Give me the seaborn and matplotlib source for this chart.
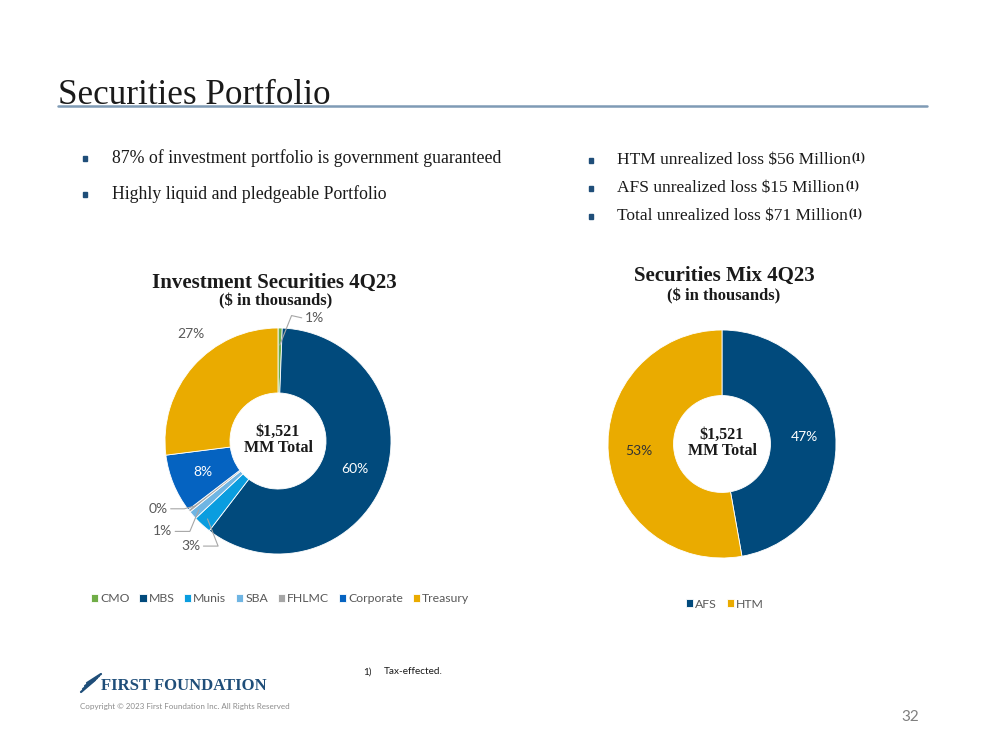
import matplotlib
matplotlib.use("Agg")
import matplotlib.pyplot as plt
import seaborn as sns
import numpy as np
from matplotlib.patches import Rectangle
from matplotlib.lines import Line2D

# ---------------- data ----------------
inv_categories = ["CMO", "MBS", "Munis", "SBA", "FHLMC", "Corporate", "Treasury"]
inv_values = [0.6, 59.8, 2.6, 1.2, 0.4, 8.4, 27.0]
mix_categories = ["AFS", "HTM"]
mix_values = [47.2, 52.8]
center_label = "$1,521\nMM Total"
left_bullets = ["87% of investment portfolio is government guaranteed",
                "Highly liquid and pledgeable Portfolio"]
right_bullets = ["HTM unrealized loss $56 Million",
                 "AFS unrealized loss $15 Million",
                 "Total unrealized loss $71 Million"]

inv_colors = ["#70ad47", "#014a7c", "#0a9ddf", "#6fb5e3", "#a6a6a6", "#0563c1", "#eaab00"]
mix_colors = ["#014a7c", "#eaab00"]

sns.set_theme(style="white")
SERIF = ["Liberation Serif", "DejaVu Serif"]
SANS = ["Lato", "DejaVu Sans"]
plt.rcParams["font.family"] = SANS

W, H = 999, 750
fig = plt.figure(figsize=(W / 100, H / 100), dpi=100)
fig.patch.set_facecolor("white")


def fx(x):
    return x / W


def fy(y):
    return 1 - y / H


# ---------------- header ----------------
fig.text(fx(58), fy(104), "Securities Portfolio", family=SERIF, fontsize=25.3,
         color="#1a1a1a", va="baseline", ha="left")
fig.add_artist(Line2D([fx(58), fx(927)], [fy(106), fy(106)], color="#7f9bb5", lw=1.8))

bullet_col = "#1f4e79"
for i, t in enumerate(left_bullets):
    y = 158 + i * 36
    fig.add_artist(Rectangle((fx(83), fy(y + 3)), 4 / W, 5 / H, color=bullet_col))
    fig.text(fx(112), fy(y), t, family=SERIF, fontsize=12.8, color="#1a1a1a", va="center")
for i, t in enumerate(right_bullets):
    y = 160 + i * 28
    fig.add_artist(Rectangle((fx(589), fy(y + 3)), 4 / W, 5 / H, color=bullet_col))
    tx = fig.text(fx(617), fy(y), t, family=SERIF, fontsize=12.5, color="#1a1a1a", va="center")
    fig.canvas.draw()
    bb = tx.get_window_extent()
    fig.text(bb.x1 / W + 1 / W, fy(y + 4), "(1)", family=SERIF, fontsize=8.5,
             fontweight="bold", color="#1a1a1a", va="bottom")


# ---------------- donuts ----------------
def donut(cx, cy, R, values, colors, half=170):
    ax = fig.add_axes([fx(cx - half), fy(cy + half), 2 * half / W, 2 * half / H])
    lim = half / R
    ax.set_xlim(-lim, lim)
    ax.set_ylim(-lim, lim)
    ax.set_aspect("equal")
    ax.axis("off")
    wedges, _ = ax.pie(values, colors=colors, startangle=90, counterclock=False, radius=1,
                       wedgeprops=dict(width=0.575, edgecolor="white", linewidth=0.6))
    ax.set_xlim(-lim, lim)
    ax.set_ylim(-lim, lim)
    ax.text(0, 0.01, center_label, ha="center", va="center", family=SERIF,
            fontweight="bold", fontsize=11.5, color="#1a1a1a", linespacing=1.05)
    return ax, wedges


def mid_angle(w):
    return np.deg2rad((w.theta1 + w.theta2) / 2)


# Left donut
axL, wL = donut(278, 441, 113, inv_values, inv_colors)
labels_L = [f"{round(v)}%" for v in inv_values]
grey = "#595959"
lead = "#a6a6a6"
for idx in [1, 5]:
    a = mid_angle(wL[idx])
    axL.text(0.72 * np.cos(a), 0.72 * np.sin(a), labels_L[idx], ha="center", va="center",
             color="white", fontsize=10)
a = np.deg2rad(129)
axL.text(1.22 * np.cos(a), 1.22 * np.sin(a), labels_L[6], ha="center", va="center",
         color=grey, fontsize=10)
small = [(0, (0.24, 1.09), (0.12, 1.11), "left"),
         (4, (-0.98, -0.6), (-0.83, -0.6), "right"),
         (3, (-0.94, -0.8), (-0.78, -0.8), "right"),
         (2, (-0.69, -0.93), (-0.53, -0.93), "right")]
for idx, tpos, elbow, ha in small:
    a = mid_angle(wL[idx])
    r = 0.93 if idx != 0 else 0.85
    px_, py_ = r * np.cos(a), r * np.sin(a)
    axL.plot([tpos[0] + (0.03 if ha == "right" else -0.03), elbow[0], px_],
             [tpos[1], elbow[1], py_], color=lead, lw=0.8)
    axL.text(tpos[0], tpos[1], labels_L[idx], ha=ha, va="center", color=grey, fontsize=10)

fig.text(fx(274), fy(283), "Investment Securities 4Q23", family=SERIF, fontweight="bold",
         fontsize=15, color="#1a1a1a", ha="center", va="center")
fig.text(fx(276), fy(301), "($ in thousands)", family=SERIF, fontweight="bold",
         fontsize=12, color="#1a1a1a", ha="center", va="center")

leg = fig.legend(wL, inv_categories, loc="center", bbox_to_anchor=(fx(280), fy(599)),
                 ncol=7, frameon=False, handlelength=0.6, handleheight=0.6,
                 handletextpad=0.15, columnspacing=0.8, fontsize=8.8)
for t in leg.get_texts():
    t.set_color(grey)

# Right donut
axR, wR = donut(722, 444, 114, mix_values, mix_colors)
labels_R = [f"{round(v)}%" for v in mix_values]
for idx, col in [(0, "white"), (1, "#333333")]:
    a = mid_angle(wR[idx])
    axR.text(0.73 * np.cos(a), 0.73 * np.sin(a), labels_R[idx], ha="center", va="center",
             color=col, fontsize=10)

fig.text(fx(724), fy(276), "Securities Mix 4Q23", family=SERIF, fontweight="bold",
         fontsize=15, color="#1a1a1a", ha="center", va="center")
fig.text(fx(724), fy(296), "($ in thousands)", family=SERIF, fontweight="bold",
         fontsize=12, color="#1a1a1a", ha="center", va="center")

legR = fig.legend(wR, mix_categories, loc="center", bbox_to_anchor=(fx(725), fy(604)),
                  ncol=2, frameon=False, handlelength=0.6, handleheight=0.6,
                  handletextpad=0.15, columnspacing=0.8, fontsize=8.8)
for t in legR.get_texts():
    t.set_color(grey)

# ---------------- footer ----------------
fig.text(fx(363), fy(672), "1)", fontsize=7.2, color="#1a1a1a", va="center")
fig.text(fx(384), fy(672), "Tax-effected.", fontsize=7.2, color="#1a1a1a", va="center")
navy = "#1f4e79"
for k in range(4):
    fig.add_artist(Line2D([fx(81 + k * 2), fx(95 + k * 2)], [fy(692 - k * 3), fy(680 - k * 2)],
                          color=navy, lw=1.6))
fig.text(fx(101), fy(686), "FIRST FOUNDATION", family=SERIF, fontweight="bold",
         fontsize=12, color=navy, va="center")
fig.text(fx(80), fy(706), "Copyright \u00a9 2023 First Foundation Inc. All Rights Reserved",
         fontsize=5.8, color="#8c8c8c", va="center")
fig.text(fx(919), fy(717), "32", fontsize=11, color="#7f7f7f", va="center", ha="right")

fig.savefig("out.png", dpi=100, facecolor="white")
